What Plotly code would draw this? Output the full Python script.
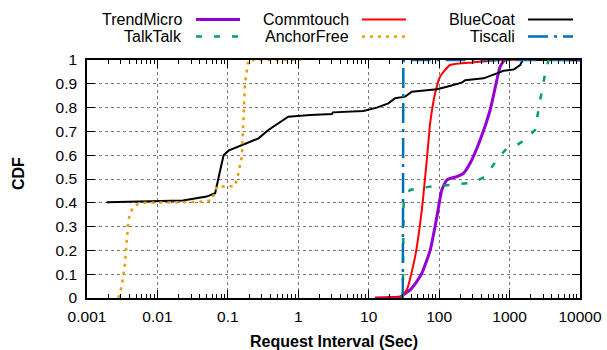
import plotly.graph_objects as go

# ---------------- data ----------------
trend_x = [12.3, 20, 27.9, 38.7, 47, 56.8, 74.5, 92.7, 109, 129, 178, 221, 275, 382, 530, 660, 735, 870, 10000]
trend_y = [0.0, 0.002, 0.005, 0.034, 0.065, 0.104, 0.2, 0.34, 0.454, 0.496, 0.51, 0.524, 0.566, 0.664, 0.79, 0.916, 0.972, 1.0, 1.0]

comm_x = [13, 20, 27.9, 34.7, 45.6, 56.8, 66.8, 74.5, 87.7, 103, 143, 307, 740, 10000]
comm_y = [0.0, 0.002, 0.005, 0.034, 0.174, 0.37, 0.58, 0.734, 0.86, 0.93, 0.979, 0.99, 1.0, 1.0]

blue_x = [0.0019, 0.023, 0.05, 0.066, 0.078, 0.087, 0.102, 0.158, 0.27, 0.376, 0.72, 1.48,
          3.0, 3.1, 8.4, 13, 19, 23.7, 32.9, 41, 92.7, 129, 210, 234, 427, 660, 820, 1140, 1415, 1540, 10000]
blue_y = [0.402, 0.41, 0.426, 0.44, 0.538, 0.60, 0.619, 0.643, 0.67, 0.706, 0.762, 0.769,
          0.773, 0.78, 0.786, 0.80, 0.818, 0.839, 0.846, 0.867, 0.877, 0.888, 0.905, 0.915, 0.923, 0.944, 0.955, 0.96, 0.979, 1.0, 1.0]

talk_x = [30.5, 31, 31.3, 38.7, 74.5, 143, 307, 450, 660, 870, 1270, 1760, 2300, 2720, 3200, 3570, 10000]
talk_y = [0.0, 0.2, 0.419, 0.454, 0.468, 0.475, 0.485, 0.51, 0.58, 0.622, 0.643, 0.67, 0.706, 0.832, 0.944, 1.0, 1.0]

anchor_x = [0.00279, 0.00311, 0.00347, 0.00366, 0.00387, 0.00417, 0.0048, 0.0063, 0.040, 0.059, 0.0695, 0.126, 0.141, 0.158, 0.167, 0.175, 0.195, 1.1]
anchor_y = [0.0, 0.048, 0.146, 0.258, 0.328, 0.363, 0.39, 0.40, 0.404, 0.41, 0.468, 0.47, 0.524, 0.594, 0.762, 0.90, 1.0, 1.0]

tisc_x = [29.5, 30.5, 31.0, 31.5, 10000]
tisc_y = [0.0, 0.02, 0.98, 1.0, 1.0]

x_ticks = [0.001, 0.01, 0.1, 1, 10, 100, 1000, 10000]
x_tick_labels = ["0.001", "0.01", "0.1", "1", "10", "100", "1000", "10000"]
y_ticks = [0, 0.1, 0.2, 0.3, 0.4, 0.5, 0.6, 0.7, 0.8, 0.9, 1]
y_tick_labels = ["0", "0.1", "0.2", "0.3", "0.4", "0.5", "0.6", "0.7", "0.8", "0.9", "1"]

x_title = "Request Interval (Sec)"
y_title = "CDF"

series = [
    ("TrendMicro", trend_x, trend_y, "#9400d3", 3, "solid", "spline"),
    ("Commtouch", comm_x, comm_y, "#ff0000", 2, "solid", "spline"),
    ("BlueCoat", blue_x, blue_y, "#000000", 2, "solid", "linear"),
    ("TalkTalk", talk_x, talk_y, "#009e73", 2.5, "6px,12px", "linear"),
    ("AnchorFree", anchor_x, anchor_y, "#e69f00", 2.5, "3px,5px", "linear"),
    ("Tiscali", tisc_x, tisc_y, "#0072b2", 2.5, "20px,6px,3px,6px", "linear"),
]

# ---------------- layout geometry ----------------
W, H = 607, 350
L, R, T, B = 87, 580, 60, 298

fig = go.Figure()
for name, xs, ys, col, w, dash, shape in series:
    line = dict(color=col, width=w, dash=dash, shape=shape)
    if shape == "spline":
        line["smoothing"] = 0.5
    fig.add_trace(go.Scatter(x=xs, y=ys, mode="lines", name=name,
                             line=line, showlegend=False))

FONT = "Liberation Sans, Arial, sans-serif"

fig.update_layout(
    width=W, height=H,
    margin=dict(l=L, r=W - R, t=T, b=H - B, pad=0, autoexpand=False),
    plot_bgcolor="white", paper_bgcolor="white",
    font=dict(family=FONT, size=16, color="black"),
)

fig.update_xaxes(
    type="log", range=[-3, 4], automargin=False,
    tickvals=x_ticks, ticktext=x_tick_labels,
    ticks="inside", ticklen=8, tickwidth=1, tickcolor="black",
    showline=True, linecolor="black", linewidth=1.5, mirror="allticks",
    showgrid=True, gridcolor="#7a7a7a", griddash="dot", gridwidth=1,
    zeroline=False,
    minor=dict(dtick="D1", ticks="inside", ticklen=4, tickcolor="black", showgrid=False),
    tickfont=dict(size=15.5),
    ticklabelstandoff=4,
)
fig.update_yaxes(
    range=[0, 1], automargin=False,
    tickvals=y_ticks, ticktext=y_tick_labels,
    ticks="inside", ticklen=8, tickwidth=1, tickcolor="black",
    showline=True, linecolor="black", linewidth=1.5, mirror="allticks",
    showgrid=True, gridcolor="#7a7a7a", griddash="dot", gridwidth=1,
    zeroline=False,
    tickfont=dict(size=15.5),
    ticklabelstandoff=5,
)

# ---------------- helpers: pixel -> paper ----------------
def px(xp):
    return (xp - L) / (R - L)

def py(yp):
    return (B - yp) / (B - T)

# axis titles
fig.add_annotation(x=px(334), y=py(341), xref="paper", yref="paper",
                   text="<b>" + x_title + "</b>", showarrow=False,
                   xanchor="center", yanchor="middle", font=dict(size=16, family=FONT))
fig.add_annotation(x=px(18), y=py(174), xref="paper", yref="paper",
                   text="<b>" + y_title + "</b>", showarrow=False, textangle=-90,
                   xanchor="center", yanchor="middle", font=dict(size=16, family=FONT))

# ---------------- manual legend (gnuplot style) ----------------
legend_cols = [(184, 196, 240), (351, 362, 406), (517, 528, 573)]
legend_rows = [19.5, 36.5]
for i, (name, xs, ys, col, w, dash, shape) in enumerate(series):
    c = legend_cols[i % 3]
    r = legend_rows[i // 3]
    fig.add_annotation(x=px(c[0]), y=py(r), xref="paper", yref="paper",
                       text=name, showarrow=False, xanchor="right", yanchor="middle",
                       font=dict(size=16, family=FONT, color="black"))
    fig.add_shape(type="line", xref="paper", yref="paper",
                  x0=px(c[1]), x1=px(c[2]), y0=py(r), y1=py(r),
                  line=dict(color=col, width=w, dash=dash))

fig.write_html("out.html",
               config={"displayModeBar": False},
               post_script="document.body.style.margin='0px';document.body.style.overflow='hidden';")
